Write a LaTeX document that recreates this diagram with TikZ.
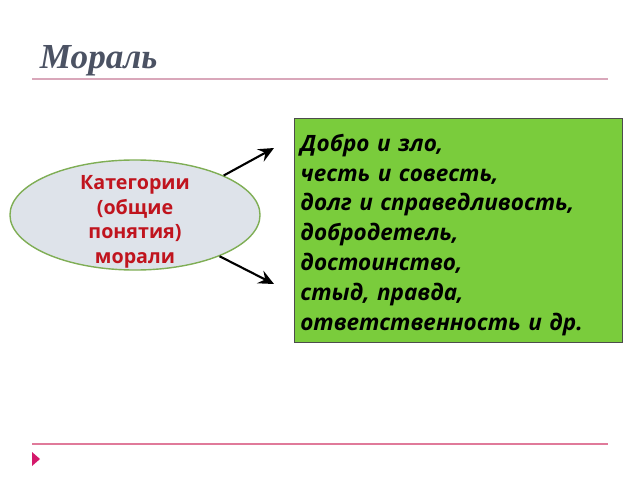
\documentclass[tikz,border=0pt]{standalone}
\usepackage{fontspec}
\setmainfont{Open Sans}
\newfontfamily\titlefont{Liberation Serif}
\usetikzlibrary{arrows.meta,shapes.geometric}
\definecolor{titlegray}{HTML}{4B5263}
\definecolor{linepink}{HTML}{D9A7BA}
\definecolor{footpink}{HTML}{E07A9A}
\definecolor{markred}{HTML}{D4196B}
\definecolor{ovalfill}{HTML}{DEE3EA}
\definecolor{ovalline}{HTML}{7FAE55}
\definecolor{katred}{HTML}{C0141E}
\definecolor{boxgreen}{HTML}{7ACC3C}
\tikzset{
  oval/.style={ellipse,draw=ovalline,fill=ovalfill,line width=1pt,
    minimum width=6.25cm,minimum height=2.75cm,inner xsep=0pt,inner ysep=-14pt,
    text height=73pt,text depth=3.5pt,
    align=center,text=katred,font=\fontsize{14}{17.7}\selectfont\bfseries},
  listbox/.style={draw=black!70,fill=boxgreen,line width=0.7pt,
    minimum width=8.2cm,minimum height=5.6cm,inner xsep=4pt,inner ysep=2pt,
    text height=19pt,text depth=132pt,
    align=left,font=\fontsize{16}{21.3}\selectfont\bfseries\itshape},
  pointer/.style={-{Stealth[length=11pt,width=10pt,inset=4pt]},line width=1.5pt}
}
\begin{document}
\begin{tikzpicture}[x=0.025cm,y=-0.025cm]
\useasboundingbox (0,0) rectangle (640,480);
\node (title) [anchor=base west,text=titlegray,
  font=\fontsize{25}{30}\selectfont\titlefont\bfseries\itshape] at (35,68) {Мораль};
\draw[linepink,line width=1.6pt] (32,79) -- (608,79);
\draw[footpink,line width=1pt] (32,444) -- (608,444);
\fill[markred] (32,452) -- (40,459) -- (32,466) -- cycle;
\node (kat) [oval] at (135,215) {Категории\\(общие\\понятия)\\морали};
\node (spisok) [listbox,anchor=north west,text width=7.9cm] at (294,118)
  {Добро и зло,\\честь и совесть,\\долг и справедливость,\\добродетель,\\достоинство,\\стыд, правда,\\ответственность и др.};
\coordinate (up) at (274,148);
\coordinate (down) at (274,284);
\draw[pointer] (kat.24) -- (up);
\draw[pointer] (kat.-26) -- (down);
\end{tikzpicture}
\end{document}
